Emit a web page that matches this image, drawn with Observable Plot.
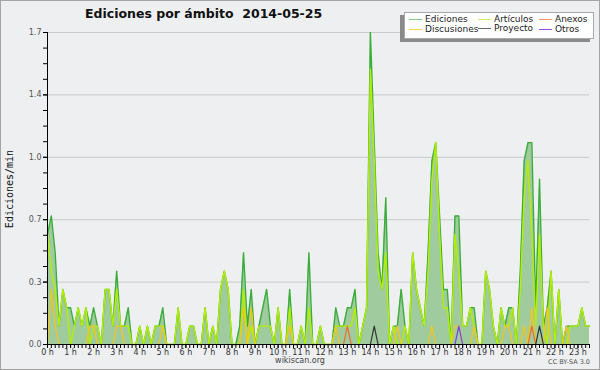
<!DOCTYPE html>
<html>
<head>
<meta charset="utf-8">
<script src="https://cdn.jsdelivr.net/npm/d3@7"></script>
<script src="https://cdn.jsdelivr.net/npm/@observablehq/plot@0.6"></script>
<style>
  html, body { margin: 0; padding: 0; background: #eeeff1; }
  #chart { position: relative; width: 600px; height: 370px; overflow: hidden; background: #eeeff1; font-family: "DejaVu Sans", sans-serif; }
  #plot { position: absolute; left: 0; top: 0; }
  .abs { position: absolute; white-space: nowrap; line-height: 1; }
  #frame { position: absolute; left: 0; top: 0; width: 600px; height: 370px; box-sizing: border-box; border: 1px solid #a4a4a4; pointer-events: none; }
  #legend { position: absolute; left: 404px; top: 12px; width: 188px; height: 25px; background: #fff; border: 1px solid #a8a8a8; box-shadow: -4px 3px 0 #8a8a8a; }
  .sw { position: absolute; height: 1px; width: 13px; }
  .lt { position: absolute; font-size: 9px; line-height: 1; color: #222; white-space: nowrap; font-family: "DejaVu Sans", sans-serif; }
</style>
</head>
<body>
<div id="chart">
  <div id="plot"></div>
  <div class="abs" style="left:85px;top:8px;font-weight:bold;font-size:12.5px;font-family:'DejaVu Sans',sans-serif;color:#111;">Ediciones por ámbito&nbsp;&nbsp;2014-05-25</div>
  <div id="legend"></div>
  <div class="abs" style="left:10px;top:189px;font-size:10px;font-family:'DejaVu Sans Mono',monospace;color:#111;transform:translate(-50%,-50%) rotate(-90deg);">Ediciones/min</div>
  <div class="abs" style="left:300px;top:357px;font-size:8px;color:#444;transform:translateX(-50%);">wikiscan.org</div>
  <div class="abs" style="right:10px;top:359px;font-size:6.5px;color:#555;">CC BY-SA 3.0</div>
  <div id="frame"></div>
</div>
<script>
// 10-minute slots, edits per minute (2014-05-25)
const ediciones = [
  0.6,0.7,0.5,0.1,0.3,0.2,0.2,0.1,0.2,0.1,0.2,0.1,
  0.2,0.1,0,0.3,0.3,0.1,0.4,0.1,0.1,0.2,0,0,
  0.1,0,0.1,0,0.1,0.1,0.2,0,0,0,0.2,0,
  0,0.1,0.1,0,0,0.2,0,0.1,0,0.3,0.4,0.3,
  0,0,0.1,0.5,0.1,0.3,0,0.1,0.2,0.3,0.1,0,
  0.2,0,0,0.3,0,0,0.1,0,0.5,0,0,0.1,
  0,0,0,0.2,0.1,0.1,0.2,0.2,0.3,0,0.1,0.2,
  1.7,1.1,0.5,0.3,0.8,0,0.1,0.1,0.3,0.1,0,0.5,
  0.3,0.2,0.1,0.5,1.0,1.1,0.7,0.3,0.3,0,0.7,0.7,
  0.1,0.1,0.2,0.2,0,0,0.4,0.3,0.1,0,0.2,0.1,
  0.2,0.2,0,0.4,1.0,1.1,1.1,0.2,0.9,0.1,0.2,0.4,
  0,0.3,0,0.1,0.1,0.1,0.1,0.2,0.1,0.1
];
const articulos = [
  0.6,0.4,0.3,0.1,0.3,0.2,0,0.1,0.2,0.1,0.2,0,
  0.1,0.1,0,0.3,0.3,0.1,0.3,0.1,0.1,0.1,0,0,
  0.1,0,0.1,0,0.1,0.1,0.1,0,0,0,0.2,0,
  0,0.1,0.1,0,0,0.2,0,0.1,0,0.3,0.4,0.3,
  0,0,0,0.3,0,0.1,0,0.1,0.1,0.1,0.1,0,
  0.2,0,0,0.2,0,0,0.1,0,0.2,0,0,0.1,
  0,0,0,0.1,0.1,0.1,0.1,0.1,0.2,0,0.1,0.2,
  1.5,1.0,0.4,0.3,0.5,0,0.1,0,0,0.1,0,0.5,
  0.3,0.2,0.1,0.4,0.9,1.1,0.6,0.2,0.2,0,0.6,0.4,
  0.1,0.1,0.2,0.1,0,0,0.4,0.3,0.1,0,0.2,0.1,
  0.1,0.2,0,0.3,0.8,1.0,0.6,0.1,0.6,0.1,0,0.4,
  0,0.3,0,0,0.1,0.1,0.1,0.2,0.1,0.1
];
const discusiones = [
  0,0.3,0.1,0,0,0,0,0,0,0,0,0.1,
  0.1,0,0,0,0,0,0.1,0.1,0,0,0,0,
  0,0,0,0,0,0,0.1,0,0,0,0,0,
  0,0,0,0,0,0,0,0,0,0,0,0,
  0,0,0,0.2,0,0.2,0,0,0,0,0,0,
  0,0,0,0.1,0,0,0,0,0,0,0,0,
  0,0,0,0.1,0,0,0,0,0,0,0,0,
  0,0,0,0,0,0,0,0.1,0,0,0,0,
  0,0,0,0,0.1,0,0,0,0,0,0.1,0.1,
  0,0,0,0.1,0,0,0,0,0,0,0,0.1,
  0.1,0,0,0,0.1,0,0.2,0,0,0,0.2,0,
  0,0,0,0.1,0,0,0,0,0,0
];
const anexos = [
  0,0,0,0,0,0,0,0,0,0,0,0,
  0,0,0,0,0,0,0,0,0,0,0,0,
  0,0,0,0,0,0,0,0,0,0,0,0,
  0,0,0,0,0,0,0,0,0,0,0,0,
  0,0,0,0,0,0,0,0,0,0,0,0,
  0,0,0,0,0,0,0,0,0,0,0,0,
  0,0,0,0,0,0,0.1,0,0,0,0,0,
  0,0,0,0,0,0,0,0,0,0,0,0,
  0,0,0,0,0,0,0,0,0,0,0,0,
  0,0,0,0,0,0,0,0,0,0,0,0,
  0,0,0,0,0,0,0.1,0,0,0,0,0,
  0,0,0,0,0,0,0,0,0,0
];
const proyecto = [
  0,0,0,0,0,0,0,0,0,0,0,0,
  0,0,0,0,0,0,0,0,0,0,0,0,
  0,0,0,0,0,0,0,0,0,0,0,0,
  0,0,0,0,0,0,0,0,0,0,0,0,
  0,0,0,0,0,0,0,0,0,0,0,0,
  0,0,0,0,0,0,0,0,0,0,0,0,
  0,0,0,0,0,0,0,0,0,0,0,0,
  0,0.1,0,0,0,0,0,0,0,0,0,0,
  0,0,0,0,0,0,0,0,0,0,0,0,
  0,0,0,0,0,0,0,0,0,0,0,0,
  0,0,0,0,0,0,0,0,0.1,0,0,0,
  0,0,0,0,0,0,0,0,0,0
];
const otros = [
  0,0,0,0,0,0,0,0,0,0,0,0,
  0,0,0,0,0,0,0,0,0,0,0,0,
  0,0,0,0,0,0,0,0,0,0,0,0,
  0,0,0,0,0,0,0,0,0,0,0,0,
  0,0,0,0,0,0,0,0,0,0,0,0,
  0,0,0,0,0,0,0,0,0,0,0,0,
  0,0,0,0,0,0,0,0,0,0,0,0,
  0,0,0,0,0,0,0,0,0,0,0,0,
  0,0,0,0,0,0,0,0,0,0,0,0.1,
  0,0,0,0,0,0,0,0,0,0,0,0,
  0,0,0,0,0,0,0,0,0,0,0,0,
  0,0,0,0,0,0,0,0,0,0
];
const hourLabels = ["0 h","1 h","2 h","3 h","4 h","5 h","6 h","7 h","8 h","9 h","10 h","11 h",
  "12 h","13 h","14 h","15 h","16 h","17 h","18 h","19 h","20 h","21 h","22 h","23 h"];
const yTicks = [0, 0.34, 0.68, 1.02, 1.36, 1.7];
const yMinorTicks = [0,0.085,0.17,0.255,0.34,0.425,0.51,0.595,0.68,0.765,0.85,0.935,1.02,1.105,1.19,1.275,1.36,1.445,1.53,1.615,1.7];

const seriesNames = ["Ediciones","Artículos","Anexos","Discusiones","Proyecto","Otros"];
const seriesColors = ["#3aae3a","#b4ee00","#f26a2a","#f7c615","#333333","#7b3ee6"];
const legendColors = ["#86c986","#cdf06a","#f8955f","#fcd24e","#666666","#9b4de8"];

const slots = ediciones.map((v, i) => i);
const rows = slots.map(i => ({slot: i, ed: ediciones[i], art: articulos[i], disc: discusiones[i], anx: anexos[i], proy: proyecto[i], otr: otros[i]}));
const slotsPerHour = 6;
const hourSlots = hourLabels.map((l, h) => h * slotsPerHour);

const chart = Plot.plot({
  width: 600,
  height: 370,
  marginTop: 32,
  marginRight: 11,
  marginBottom: 26,
  marginLeft: 47,
  style: {background: "transparent", fontFamily: "DejaVu Sans, sans-serif", overflow: "visible"},
  x: {domain: [0, slots.length - 1]},
  y: {domain: [0, 1.7]},
  marks: [
    Plot.gridY(yTicks.slice(1), {stroke: "#c9c9c9", strokeOpacity: 1}),
    Plot.areaY(rows, {x: "slot", y: "ed", fill: "#9fcb9f", fillOpacity: 1}),
    Plot.lineY(rows, {x: "slot", y: "ed", stroke: seriesColors[0], strokeWidth: 1.4}),
    Plot.lineY(rows, {x: "slot", y: "art", stroke: seriesColors[1], strokeWidth: 1.4}),
    Plot.lineY(rows, {x: "slot", y: "disc", stroke: seriesColors[3], strokeWidth: 1.2}),
    Plot.lineY(rows, {x: "slot", y: "anx", stroke: seriesColors[2], strokeWidth: 1.2}),
    Plot.lineY(rows, {x: "slot", y: "proy", stroke: seriesColors[4], strokeWidth: 1.2}),
    Plot.lineY(rows, {x: "slot", y: "otr", stroke: seriesColors[5], strokeWidth: 1.2}),
    Plot.axisX(slots, {tickSize: 4, tickFormat: () => "", stroke: "#000", label: null}),
    Plot.axisX(hourSlots, {tickSize: 4, tickPadding: 1, tickFormat: (d) => hourLabels[d / slotsPerHour], fontSize: 8, fill: "#333", label: null}),
    Plot.axisY(yMinorTicks, {tickSize: 4, tickFormat: () => "", stroke: "#000", label: null}),
    Plot.axisY(yTicks, {tickSize: 4, tickPadding: 2, tickFormat: d3.format(".1f"), fontSize: 8, fill: "#555", label: null}),
    Plot.ruleY([0], {stroke: "#000"}),
    Plot.ruleX([0], {stroke: "#000"})
  ]
});
document.getElementById("plot").appendChild(chart);

// legend
const legend = document.getElementById("legend");
const pos = [[4, 6], [73, 6], [134, 6], [4, 16], [73, 15], [134, 16]];
seriesNames.forEach((name, k) => {
  const [lx, ly] = pos[k];
  const sw = document.createElement("div");
  sw.className = "sw";
  sw.style.left = lx + "px";
  sw.style.top = ly + "px";
  sw.style.background = legendColors[k];
  legend.appendChild(sw);
  const t = document.createElement("div");
  t.className = "lt";
  t.style.left = (lx + 16) + "px";
  t.style.top = (ly - 4) + "px";
  t.textContent = name;
  legend.appendChild(t);
});
</script>
</body>
</html>
